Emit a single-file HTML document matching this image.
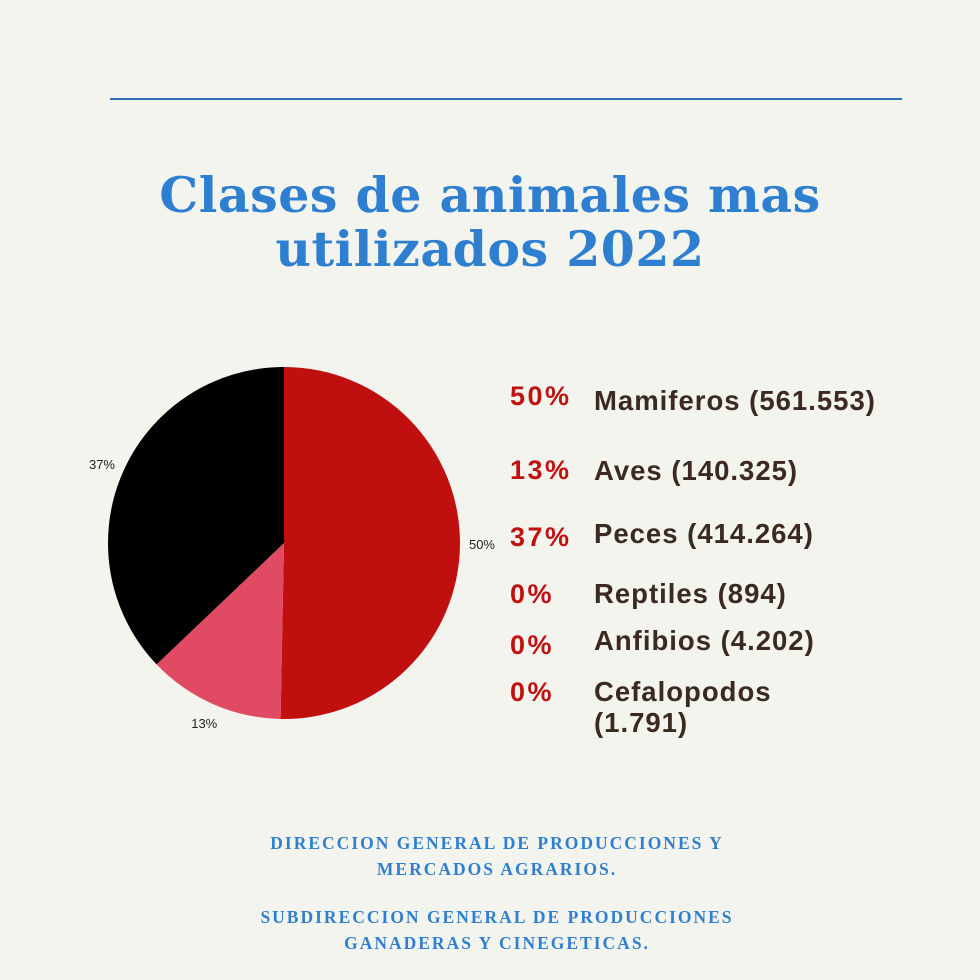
<!DOCTYPE html>
<html><head><meta charset="utf-8"><style>
body{margin:0;width:980px;height:980px;background:#f4f4ef;position:relative;overflow:hidden;font-family:"Liberation Sans",sans-serif}
.t{position:absolute;white-space:nowrap}
.title{left:0;width:980px;text-align:center;font-family:"DejaVu Serif","Liberation Serif",serif;font-weight:bold;color:#2e7fcf;font-size:49px;line-height:54px;top:168px;letter-spacing:0.5px}
.pct{color:#c0100f;font-weight:bold;font-size:27px;left:510px;letter-spacing:2.5px}
.lab{color:#3a2a22;font-weight:bold;font-size:27.5px;left:594px;line-height:31px;letter-spacing:1px}
.foot{left:0;width:994px;text-align:center;font-family:"Liberation Serif","DejaVu Serif",serif;font-weight:bold;color:#2e7fcf;font-size:17.5px;line-height:26px;letter-spacing:2px}
</style></head><body>
<div style="position:absolute;left:110px;top:98px;width:792px;height:2px;background:#2e6fb8"></div>
<div class="t title">Clases de animales mas<br>utilizados 2022</div>
<svg id="pie" width="980" height="980" style="position:absolute;left:0;top:0"></svg>
<div class="t pct" style="top:381px">50%</div>
<div class="t lab" style="top:385px">Mamiferos (561.553)</div>
<div class="t pct" style="top:455px">13%</div>
<div class="t lab" style="top:455px">Aves (140.325)</div>
<div class="t pct" style="top:522px">37%</div>
<div class="t lab" style="top:518px">Peces (414.264)</div>
<div class="t pct" style="top:579px">0%</div>
<div class="t lab" style="top:578px">Reptiles (894)</div>
<div class="t pct" style="top:630px">0%</div>
<div class="t lab" style="top:625px">Anfibios (4.202)</div>
<div class="t pct" style="top:677px">0%</div>
<div class="t lab" style="top:676px">Cefalopodos<br>(1.791)</div>
<div class="t foot" style="top:830px">DIRECCION GENERAL DE PRODUCCIONES Y<br>MERCADOS AGRARIOS.</div>
<div class="t foot" style="top:904px">SUBDIRECCION GENERAL DE PRODUCCIONES<br>GANADERAS Y CINEGETICAS.</div>
<script>
const categories=["Mamiferos","Aves","Peces"];
const values=[561553,140325,414264];
const pctLabels=["50%","13%","37%"];
const colors=["#c00f0f","#e04a63","#000000"];
const svg=document.getElementById('pie');
const cx=284,cy=543,r=176,NS="http://www.w3.org/2000/svg";
const total=values.reduce((a,b)=>a+b,0);
let a0=0;
function pt(a,rr){return [cx+rr*Math.sin(a),cy-rr*Math.cos(a)];}
values.forEach((v,i)=>{
  const a1=a0+v/total*2*Math.PI;
  const p0=pt(a0,r),p1=pt(a1,r);
  const path=document.createElementNS(NS,'path');
  path.setAttribute('d',`M${cx},${cy}L${p0[0]},${p0[1]}A${r},${r} 0 ${a1-a0>Math.PI?1:0} 1 ${p1[0]},${p1[1]}Z`);
  path.setAttribute('fill',colors[i]);
  
  
  svg.appendChild(path);
  const m=(a0+a1)/2,lp=pt(m,198);
  const t=document.createElementNS(NS,'text');
  t.setAttribute('x',lp[0]);t.setAttribute('y',lp[1]+4);
  t.setAttribute('text-anchor','middle');
  t.setAttribute('font-size','13');t.setAttribute('font-family','Liberation Sans, sans-serif');t.setAttribute('fill','#222');
  t.textContent=pctLabels[i];
  
  
  svg.appendChild(t);
  a0=a1;
});
</script>
</body></html>
